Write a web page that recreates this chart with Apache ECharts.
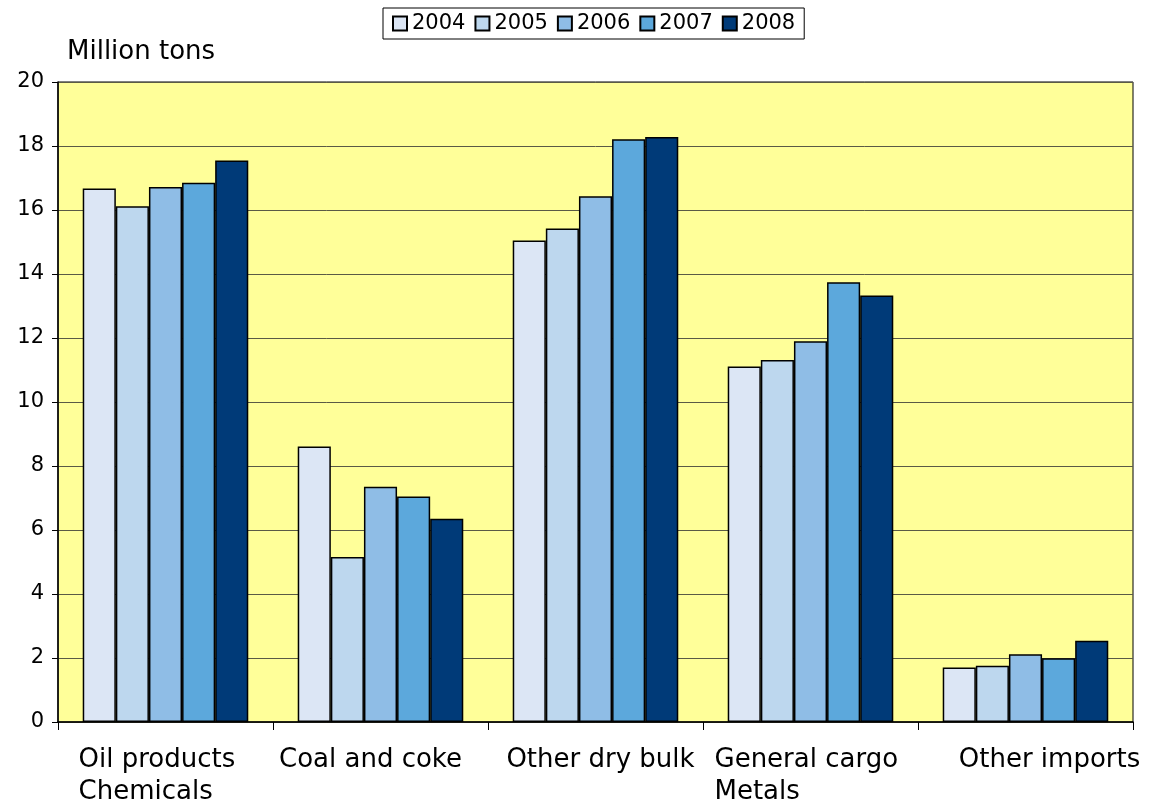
<!DOCTYPE html>
<html>
<head>
<meta charset="utf-8">
<script src="https://cdn.jsdelivr.net/npm/echarts@6/dist/echarts.min.js"></script>
<style>html,body{margin:0;padding:0;background:#fff;}#c{width:1151px;height:805px;}</style>
</head>
<body>
<div id="c"></div>
<script>
const categories = ['Oil products\nChemicals', 'Coal and coke', 'Other dry bulk', 'General cargo\nMetals', 'Other imports'];
const years = ['2004', '2005', '2006', '2007', '2008'];
const v2004 = [16.67, 8.61, 15.05, 11.11, 1.70];
const v2005 = [16.12, 5.16, 15.42, 11.31, 1.76];
const v2006 = [16.72, 7.35, 16.43, 11.90, 2.12];
const v2007 = [16.85, 7.05, 18.21, 13.74, 1.99];
const v2008 = [17.55, 6.35, 18.28, 13.33, 2.54];
const yTicks = [0, 2, 4, 6, 8, 10, 12, 14, 16, 18, 20];
const colors = ['#dce6f5', '#bdd7ee', '#8fbde6', '#5ca8dc', '#003a78'];
const values = [v2004, v2005, v2006, v2007, v2008];

const font = 'DejaVu Sans, Verdana, sans-serif';
const FS = 26;
// per-label style: block width (for left-aligned two-line labels) and horizontal shift
const labelStyles = [
  {width: 162, shift: -6},
  {shift: -10},
  {shift: 5},
  {width: 188, shift: -2},
  {shift: 24}
];
const rich = {};
labelStyles.forEach((s, i) => {
  const pad = [0, s.shift < 0 ? -2 * s.shift : 0, 0, s.shift > 0 ? 2 * s.shift : 0];
  const st = {fontFamily: font, fontSize: FS, color: '#000', lineHeight: 32, padding: pad};
  if (s.width) { st.width = s.width; st.align = 'left'; }
  rich['l' + i] = st;
});

const chart = echarts.init(document.getElementById('c'), null, {renderer: 'canvas'});
chart.setOption({
  animation: false,
  backgroundColor: '#fff',
  title: {
    text: 'Million tons', left: 62, top: 34,
    textStyle: {fontFamily: font, fontSize: 26, fontWeight: 'normal', color: '#000'}
  },
  legend: {
    data: years, top: 8, left: 383,
    borderColor: '#000', borderWidth: 1, padding: [5, 9],
    itemWidth: 14, itemHeight: 14, itemGap: 9, icon: 'rect',
    textStyle: {fontFamily: font, fontSize: 21, color: '#000'}
  },
  grid: {
    left: 58, right: 18, top: 82, bottom: 83,
    outerBoundsMode: 'none', containLabel: false,
    show: true, backgroundColor: '#ffff99', borderColor: '#000', borderWidth: 1
  },
  xAxis: {
    type: 'category', data: categories,
    axisLine: {lineStyle: {color: '#000', width: 1.5}},
    axisTick: {show: true, interval: 0, length: 8, lineStyle: {color: '#000'}},
    axisLabel: {
      interval: 0, hideOverlap: false,
      fontFamily: font, fontSize: FS, color: '#000', margin: 22, lineHeight: 32,
      formatter: function (v, idx) {
        return v.split('\n').map(p => '{l' + idx + '|' + p + '}').join('\n');
      },
      rich: rich
    }
  },
  yAxis: {
    type: 'value', min: yTicks[0], max: yTicks[yTicks.length - 1], interval: 2,
    axisLine: {show: true, lineStyle: {color: '#000', width: 1.5}},
    axisTick: {show: true, length: 6, lineStyle: {color: '#000'}},
    axisLabel: {fontFamily: font, fontSize: 21, color: '#000', margin: 14},
    splitLine: {show: true, lineStyle: {color: '#5a5a45', width: 1}}
  },
  series: years.map((y, i) => ({
    name: y, type: 'bar', data: values[i],
    barGap: '0%', barCategoryGap: '23%',
    itemStyle: {color: colors[i], borderColor: '#000', borderWidth: 1.5}
  }))
});
</script>
</body>
</html>
